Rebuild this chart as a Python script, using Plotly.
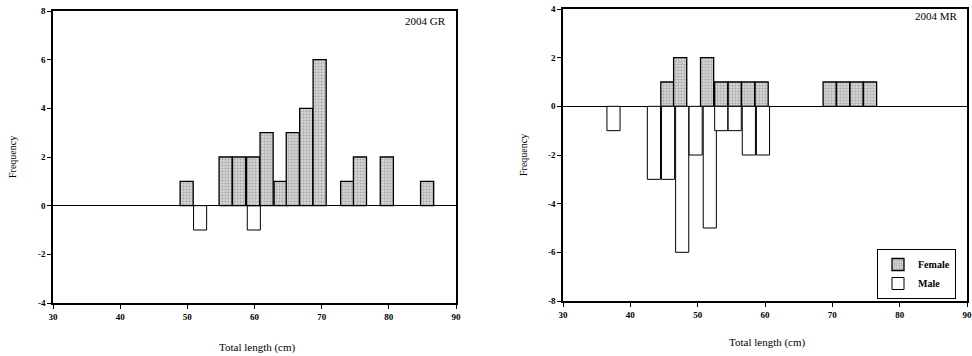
import plotly.graph_objects as go

# ---- data: left panel (2004 GR) ----
gr_female_len = [49.9, 55.7, 57.7, 59.8, 61.8, 63.9, 65.7, 67.7, 69.7, 73.8, 75.7, 79.7, 85.7]
gr_female_freq = [1, 2, 2, 2, 3, 1, 3, 4, 6, 1, 2, 2, 1]
gr_male_len = [51.9, 59.9]
gr_male_freq = [-1, -1]

# ---- data: right panel (2004 MR) ----
mr_female_len = [45.5, 47.4, 51.4, 53.5, 55.5, 57.5, 59.5, 69.6, 71.6, 73.6, 75.6]
mr_female_freq = [1, 2, 2, 1, 1, 1, 1, 1, 1, 1, 1]
mr_male_len = [37.5, 43.5, 45.6, 47.7, 49.7, 51.8, 53.5, 55.5, 57.6, 59.7]
mr_male_freq = [-1, -3, -3, -6, -2, -5, -1, -1, -2, -2]

x_ticks = [30, 40, 50, 60, 70, 80, 90]
gr_y_ticks = [-4, -2, 0, 2, 4, 6, 8]
gr_y_labels = ["-4", "-2", "0", "2", "4", "6", "8"]
mr_y_ticks = [-8, -6, -4, -2, 0, 2, 4]
mr_y_labels = ["-8", "-6", "-4", "-2", "0", "2", "4"]

FONT = "Liberation Serif"
female_marker = dict(color="#cccccc",
                     pattern=dict(shape=".", fgcolor="#7a7a7a", bgcolor="#d4d4d4", size=3, solidity=0.35),
                     line=dict(color="black", width=1.3))
male_marker = dict(color="white", line=dict(color="black", width=1))

fig = go.Figure()
fig.add_trace(go.Bar(x=gr_male_len, y=gr_male_freq, width=1.95, marker=male_marker,
                     name="Male", showlegend=False, xaxis="x", yaxis="y"))
fig.add_trace(go.Bar(x=gr_female_len, y=gr_female_freq, width=1.95, marker=female_marker,
                     name="Female", showlegend=False, xaxis="x", yaxis="y"))
fig.add_trace(go.Bar(x=mr_female_len, y=mr_female_freq, width=1.95, marker=female_marker,
                     name="Female", showlegend=True, xaxis="x2", yaxis="y2"))
fig.add_trace(go.Bar(x=mr_male_len, y=mr_male_freq, width=1.95, marker=male_marker,
                     name="Male", showlegend=True, xaxis="x2", yaxis="y2"))

axis_common = dict(showline=True, linecolor="black", linewidth=1.5, mirror=True,
                   ticks="outside", ticklen=4, tickcolor="black", tickwidth=1,
                   showgrid=False, automargin=False,
                   tickfont=dict(family=FONT, size=9, color="black", weight="bold"))

fig.update_layout(
    width=972, height=356,
    margin=dict(l=0, r=0, t=0, b=0),
    paper_bgcolor="white", plot_bgcolor="white",
    barmode="overlay",
    xaxis=dict(domain=[53/972, 456/972], range=[30, 90], tickvals=x_ticks, anchor="y",
               zeroline=False, **axis_common),
    yaxis=dict(domain=[1-303/356, 1-11/356], range=[-4, 8], tickvals=gr_y_ticks,
               ticktext=gr_y_labels, anchor="x",
               zeroline=True, zerolinecolor="black", zerolinewidth=1, **axis_common),
    xaxis2=dict(domain=[563/972, 967/972], range=[30, 90], tickvals=x_ticks, anchor="y2",
                zeroline=False, **axis_common),
    yaxis2=dict(domain=[1-301/356, 1-9/356], range=[-8, 4], tickvals=mr_y_ticks,
                ticktext=mr_y_labels, anchor="x2",
                zeroline=True, zerolinecolor="black", zerolinewidth=1, **axis_common),
    legend=dict(x=877/972, y=1-249/356, xanchor="left", yanchor="top",
                bordercolor="black", borderwidth=1, bgcolor="white",
                font=dict(family=FONT, size=10, color="black", weight="bold"),
                tracegroupgap=0, itemwidth=30),
    annotations=[
        dict(text="2004 GR", x=448/972, y=1-21/356, xref="paper", yref="paper",
             xanchor="right", yanchor="middle", showarrow=False,
             font=dict(family=FONT, size=11, color="black")),
        dict(text="2004 MR", x=960/972, y=1-16/356, xref="paper", yref="paper",
             xanchor="right", yanchor="middle", showarrow=False,
             font=dict(family=FONT, size=11, color="black")),
        dict(text="Frequency", x=12/972, y=1-157/356, xref="paper", yref="paper",
             textangle=-90, showarrow=False, xanchor="center", yanchor="middle",
             font=dict(family=FONT, size=10, color="black")),
        dict(text="Frequency", x=523/972, y=1-155/356, xref="paper", yref="paper",
             textangle=-90, showarrow=False, xanchor="center", yanchor="middle",
             font=dict(family=FONT, size=10, color="black")),
        dict(text="Total length (cm)", x=257/972, y=1-347/356, xref="paper", yref="paper",
             showarrow=False, xanchor="center", yanchor="middle",
             font=dict(family=FONT, size=11, color="black")),
        dict(text="Total length (cm)", x=767/972, y=1-342/356, xref="paper", yref="paper",
             showarrow=False, xanchor="center", yanchor="middle",
             font=dict(family=FONT, size=11, color="black")),
    ],
)

fig.write_html("out.html", config={"displayModeBar": False},
               post_script="document.body.style.margin='0';document.body.style.overflow='hidden';")
